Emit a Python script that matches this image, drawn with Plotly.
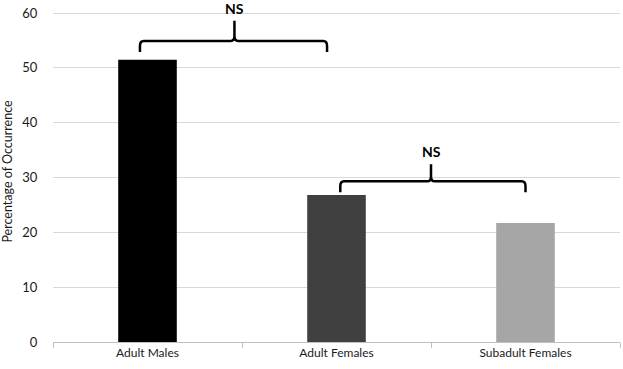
import plotly.graph_objects as go

categories = ["Adult Males", "Adult Females", "Subadult Females"]
values = [51.5, 26.8, 21.7]
bar_colors = ["#000000", "#404040", "#a6a6a6"]
y_ticks = [0, 10, 20, 30, 40, 50, 60]
sig_label = "NS"
# brackets: (x_left, x_right, x_mid, y_end, y_bar, y_tip, label_y)
brackets = [(-0.04, 0.95, 0.46, 52.9, 54.9, 58.6, 60.9),
            (1.02, 2.0, 1.5, 27.3, 29.3, 32.4, 34.8)]

x = list(range(len(categories)))
fig = go.Figure(go.Bar(x=x, y=values, marker=dict(color=bar_colors, line=dict(width=0)),
                       width=0.31, showlegend=False))

def brace_path(xl, xr, xm, ye, yb, yt):
    dx, dy = 0.02, 0.9
    return (f"M {xl},{ye} L {xl},{yb-dy} Q {xl},{yb} {xl+dx},{yb} "
            f"L {xm-dx},{yb} Q {xm},{yb} {xm},{yb+dy} L {xm},{yt} "
            f"M {xm},{yb+dy} Q {xm},{yb} {xm+dx},{yb} "
            f"L {xr-dx},{yb} Q {xr},{yb} {xr},{yb-dy} L {xr},{ye}")

for (xl, xr, xm, ye, yb, yt, ly) in brackets:
    fig.add_shape(type="path", path=brace_path(xl, xr, xm, ye, yb, yt),
                  line=dict(color="black", width=2.5), xref="x", yref="y")
    fig.add_annotation(x=xm, y=ly, text=f"<b>{sig_label}</b>", showarrow=False,
                       font=dict(family="Lato", size=14, color="black"))

fig.update_layout(
    width=623, height=369,
    margin=dict(l=53, r=3, t=1, b=27),
    plot_bgcolor="white", paper_bgcolor="white",
    font=dict(family="Lato", size=12, color="#1a1a1a"),
    xaxis=dict(range=[-0.5, 2.5], tickvals=x, ticktext=categories, showgrid=False,
               zeroline=False, showline=True, linecolor="#c0c0c0", linewidth=1,
               ticks="", tickfont=dict(size=12, color="#1a1a1a"), automargin=False,
               minor=dict(tickvals=[-0.5, 0.5, 1.5, 2.5], ticks="outside", ticklen=5,
                          tickcolor="#c0c0c0", showgrid=False)),
    yaxis=dict(range=[0, 62.2], tickvals=y_ticks, showgrid=True, gridcolor="#d9d9d9",
               gridwidth=1, zeroline=False, showline=False, ticks="outside",
               ticklen=12, tickcolor="rgba(0,0,0,0)", automargin=False,
               tickfont=dict(size=13, color="#1a1a1a"),
               title=dict(text="Percentage of Occurrence", font=dict(size=12.5, color="#1a1a1a"),
                          standoff=6)),
    bargap=0.69,
)

fig.write_html("out.html", config={"displayModeBar": False},
               post_script="document.body.style.margin='0';")
